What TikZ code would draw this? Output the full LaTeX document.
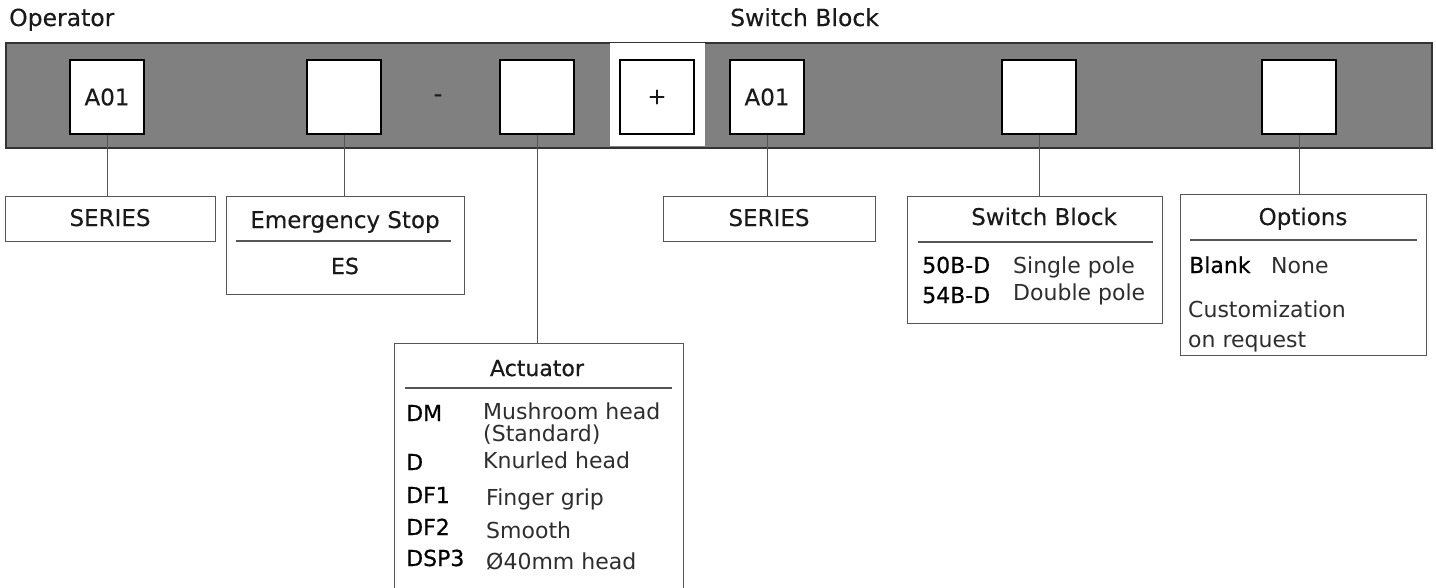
\documentclass[tikz,border=0pt]{standalone}
\usepackage{fontspec}
\setmainfont{DejaVu Sans}
\newfontfamily\codefont[FakeBold=0.6]{DejaVu Sans}
\newfontfamily\midfont[FakeBold=0.3]{DejaVu Sans}
\definecolor{bandgray}{HTML}{808080}
\definecolor{bandline}{HTML}{333333}
\definecolor{linegray}{HTML}{555555}
\definecolor{txt}{HTML}{1A1A1A}
\definecolor{desc}{HTML}{2E2E2E}
\begin{document}
\begin{tikzpicture}[x=1pt,y=-1pt,
  every node/.style={text=txt},
  f22/.style={font=\fontsize{22}{26}\selectfont},
  f23/.style={font=\fontsize{23}{26}\midfont},
  topbox/.style={draw=black, line width=2.2pt, fill=white, minimum width=74pt, minimum height=74pt, inner sep=0pt, font=\fontsize{23}{26}\midfont},
  lowbox/.style={draw=linegray, line width=1pt, fill=white, inner sep=0pt, anchor=north west},
  conn/.style={draw=linegray, line width=1pt},
  lbl/.style={inner sep=0pt, anchor=base, f22},
  lblw/.style={inner sep=0pt, anchor=base west, f22},
  code/.style={inner sep=0pt, anchor=base west, font=\fontsize{22}{26}\codefont, text=black},
  dsc/.style={inner sep=0pt, anchor=base west, f22, text=desc},
  divider/.style={draw=linegray, line width=1.2pt}]
\useasboundingbox (0,0) rectangle (1436,587);
\fill[white] (0,0) rectangle (1436,587);

% headers
\node[inner sep=0pt, anchor=base west, font=\fontsize{23.5}{26}\midfont] (hop) at (9,26) {Operator};
\node[inner sep=0pt, anchor=base west, font=\fontsize{23.5}{26}\midfont] (hsw) at (730,26) {Switch Block};

% band
\node[draw=bandline, line width=1.5pt, fill=bandgray, minimum width=1426pt, minimum height=105pt, anchor=north west, inner sep=0pt] (band) at (5,42) {};
\node[fill=white, minimum width=95pt, minimum height=103pt, anchor=north west, inner sep=0pt] (gap) at (610,43) {};

% code boxes
\node[topbox] (o1) at (107,97) {A01};
\node[topbox] (o2) at (344,97) {};
\node[inner sep=0pt, f23] (dash) at (438,98) {-};
\node[topbox] (o3) at (537,97) {};
\node[topbox] (plus) at (657,97) {+};
\node[topbox] (s1) at (767,97) {A01};
\node[topbox] (s2) at (1039,97) {};
\node[topbox] (s3) at (1299,97) {};

% lower boxes
\node[lowbox, minimum width=210pt, minimum height=45pt] (ser1) at (5,196) {};
\node[lbl, f23] (ser1t) at (110,226) {SERIES};

\node[lowbox, minimum width=238pt, minimum height=98pt] (es) at (226,196) {};
\node[lbl, f23] (est) at (345,228) {Emergency Stop};
\coordinate (esd1) at (236,241);
\coordinate (esd2) at (451,241);
\draw[divider] (esd1) -- (esd2);
\node[lbl, font=\fontsize{22}{26}\codefont] (esc) at (345,274) {ES};

\node[lowbox, minimum width=289pt, minimum height=252pt] (act) at (394,343) {};
\node[lbl, font=\fontsize{22}{26}\codefont] (actt) at (537,376) {Actuator};
\coordinate (ad1) at (405,388);
\coordinate (ad2) at (672,388);
\draw[divider] (ad1) -- (ad2);
\node[code] (c1) at (406,421) {DM};
\node[dsc] (d1) at (483,419) {Mushroom head};
\node[dsc] (d1b) at (483,441) {(Standard)};
\node[code] (c2) at (406,470) {D};
\node[dsc] (d2) at (483,468) {Knurled head};
\node[code] (c3) at (406,503) {DF1};
\node[dsc] (d3) at (486,505) {Finger grip};
\node[code] (c4) at (406,535) {DF2};
\node[dsc] (d4) at (486,538) {Smooth};
\node[code] (c5) at (406,566) {DSP3};
\node[dsc] (d5) at (486,569) {Ø40mm head};

\node[lowbox, minimum width=212pt, minimum height=45pt] (ser2) at (663,196) {};
\node[lbl, f23] (ser2t) at (769,226) {SERIES};

\node[lowbox, minimum width=255pt, minimum height=127pt] (sb) at (907,196) {};
\node[lbl, f23] (sbt) at (1044,225) {Switch Block};
\coordinate (sd1) at (918,242);
\coordinate (sd2) at (1153,242);
\draw[divider] (sd1) -- (sd2);
\node[code] (sc1) at (922,273) {50B-D};
\node[dsc] (sdd1) at (1013,273) {Single pole};
\node[code] (sc2) at (922,303) {54B-D};
\node[dsc] (sdd2) at (1013,300) {Double pole};

\node[lowbox, minimum width=246pt, minimum height=161pt] (opt) at (1180,194) {};
\node[lbl, f23] (optt) at (1303,225) {Options};
\coordinate (od1) at (1190,240);
\coordinate (od2) at (1417,240);
\draw[divider] (od1) -- (od2);
\node[code] (oc1) at (1189,273) {Blank};
\node[dsc] (odd1) at (1271,273) {None};
\node[dsc] (odd2) at (1188,317) {Customization};
\node[dsc] (odd3) at (1188,347) {on request};

% connectors
\draw[conn] (o1.south) -- (o1.south |- ser1.north);
\draw[conn] (o2.south) -- (o2.south |- es.north);
\draw[conn] (o3.south) -- (o3.south |- act.north);
\draw[conn] (s1.south) -- (s1.south |- ser2.north);
\draw[conn] (s2.south) -- (s2.south |- sb.north);
\draw[conn] (s3.south) -- (s3.south |- opt.north);
\end{tikzpicture}
\end{document}
